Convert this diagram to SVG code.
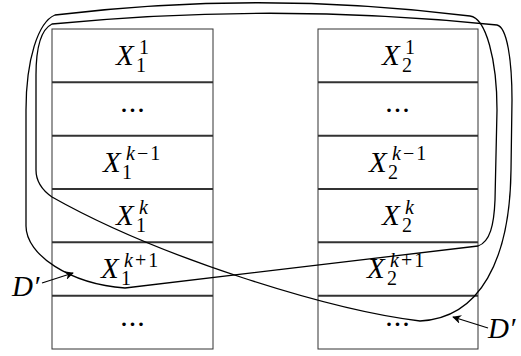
<svg xmlns="http://www.w3.org/2000/svg" width="521" height="356" viewBox="0 0 521 356">
  <style>
    .box { fill: #ffffff; stroke: #333333; stroke-width: 1; }
    .div { stroke: #333333; stroke-width: 2; }
    .loop { fill: none; stroke: #000000; stroke-width: 1.3; stroke-linejoin: round; }
    .ptr { fill: none; stroke: #000000; stroke-width: 1.2; marker-end: url(#head); }
    text { font-family: "Liberation Serif", "DejaVu Serif", serif; fill: #000; }
    .m { font-size: 29px; font-style: italic; }
    .s { font-size: 20px; }
    .i { font-style: italic; }
    .dots { font-size: 30px; text-anchor: middle; letter-spacing: 1px; }
  </style>
  <defs>
    <marker id="head" viewBox="0 0 10 10" refX="9" refY="5" markerWidth="9" markerHeight="9" markerUnits="userSpaceOnUse" orient="auto">
      <path d="M0,0 L10,5 L0,10 L3,5 Z" fill="#000"/>
    </marker>
  </defs>

  <!-- column 1 -->
  <g id="col1">
    <rect class="box" x="52" y="29" width="161" height="320"/>
    <line class="div" x1="52" y1="82.3" x2="213" y2="82.3"/>
    <line class="div" x1="52" y1="135.7" x2="213" y2="135.7"/>
    <line class="div" x1="52" y1="189" x2="213" y2="189"/>
    <line class="div" x1="52" y1="242.3" x2="213" y2="242.3"/>
    <line class="div" x1="52" y1="295.7" x2="213" y2="295.7"/>
  </g>
  <g id="x1-1"><text class="m" x="116" y="65">X</text><text class="s" x="139" y="54">1</text><text class="s" x="136" y="72">1</text></g>
  <g id="x1-dots"><text class="dots" x="133" y="112">...</text></g>
  <g id="x1-km1"><text class="m" x="103" y="172">X</text><text class="s" x="126" y="160"><tspan class="i">k</tspan><tspan dx="2">−</tspan><tspan dx="2">1</tspan></text><text class="s" x="122" y="179">1</text></g>
  <g id="x1-k"><text class="m" x="116" y="225">X</text><text class="s i" x="139" y="214">k</text><text class="s" x="136" y="232">1</text></g>
  <g id="x1-kp1"><text class="m" x="101" y="278">X</text><text class="s" x="124" y="267"><tspan class="i">k</tspan><tspan dx="2">+</tspan><tspan dx="2">1</tspan></text><text class="s" x="121" y="285">1</text></g>
  <g id="x1-dots2"><text class="dots" x="133" y="326">...</text></g>

  <!-- column 2 -->
  <g id="col2">
    <rect class="box" x="318" y="29" width="160" height="320"/>
    <line class="div" x1="318" y1="82.3" x2="478" y2="82.3"/>
    <line class="div" x1="318" y1="135.7" x2="478" y2="135.7"/>
    <line class="div" x1="318" y1="189" x2="478" y2="189"/>
    <line class="div" x1="318" y1="242.3" x2="478" y2="242.3"/>
    <line class="div" x1="318" y1="295.7" x2="478" y2="295.7"/>
  </g>
  <g id="x2-1"><text class="m" x="382" y="65">X</text><text class="s" x="405" y="54">1</text><text class="s" x="402" y="72">2</text></g>
  <g id="x2-dots"><text class="dots" x="398" y="112">...</text></g>
  <g id="x2-km1"><text class="m" x="369" y="172">X</text><text class="s" x="392" y="160"><tspan class="i">k</tspan><tspan dx="2">−</tspan><tspan dx="2">1</tspan></text><text class="s" x="388" y="179">2</text></g>
  <g id="x2-k"><text class="m" x="382" y="225">X</text><text class="s i" x="405" y="214">k</text><text class="s" x="402" y="232">2</text></g>
  <g id="x2-kp1"><text class="m" x="367" y="278">X</text><text class="s" x="390" y="267"><tspan class="i">k</tspan><tspan dx="2">+</tspan><tspan dx="2">1</tspan></text><text class="s" x="387" y="285">2</text></g>
  <g id="x2-dots2"><text class="dots" x="398" y="326">...</text></g>

  <!-- the two closed curves D' and their labels -->
  <g id="connectors">
    <path class="loop" d="M125,288 L478,246 C490,242 494,225 495,200 L497,110 C497,60 486,18 470,16 Q262,-10 55,15 C38,22 26,60 26,110 L26,226 C26,255 70,284 125,288 Z"/>
    <path class="loop" d="M52,24 Q275,2 497,25 C507,27 512,60 512,100 L511,170 C510,260 480,318 420,321 C330,310 160,258 52,197 C42,190 36,182 36,170 L36,75 C36,50 40,30 52,24 Z"/>
    <line class="ptr" x1="42" y1="283" x2="73" y2="273"/>
    <line class="ptr" x1="488" y1="328" x2="453" y2="317"/>
  </g>
  <g id="label-left"><text class="m" x="12" y="296">D′</text></g>
  <g id="label-right"><text class="m" x="488" y="338">D′</text></g>
</svg>
